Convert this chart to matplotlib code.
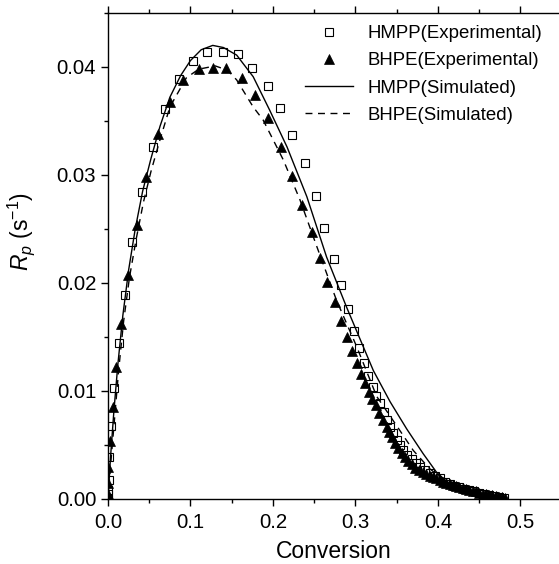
import matplotlib
matplotlib.use("Agg")
import matplotlib.pyplot as plt
from matplotlib.ticker import MultipleLocator, FormatStrFormatter

plt.rcParams['font.family'] = ['Liberation Sans', 'DejaVu Sans']
plt.rcParams['mathtext.fontset'] = 'custom'
plt.rcParams['mathtext.rm'] = 'Liberation Sans'
plt.rcParams['mathtext.it'] = 'Liberation Sans:italic'

# HMPP experimental (squares)
hmpp_exp_x = [0.0, 0.0003, 0.0005, 0.0008, 0.0012, 0.0036, 0.0073, 0.0133, 0.0204, 0.0295,
              0.041, 0.054, 0.069, 0.0857, 0.1034, 0.120, 0.140, 0.158, 0.1745, 0.1935,
              0.209, 0.2235, 0.239, 0.2517, 0.262, 0.274, 0.2824, 0.2905, 0.298, 0.3047,
              0.310, 0.3156, 0.321, 0.325, 0.330, 0.334, 0.338, 0.342, 0.346, 0.350,
              0.354, 0.358, 0.363, 0.368, 0.373, 0.378, 0.384, 0.390, 0.396, 0.402,
              0.408, 0.414, 0.420, 0.426, 0.432, 0.438, 0.444, 0.450, 0.456, 0.462,
              0.468, 0.474, 0.480]
hmpp_exp_y = [0.0, 0.0005, 0.0008, 0.0018, 0.0039, 0.0068, 0.0103, 0.0144, 0.0189, 0.0238,
              0.0284, 0.0326, 0.0361, 0.0389, 0.0406, 0.0414, 0.0414, 0.0412, 0.0399, 0.0382,
              0.0362, 0.0337, 0.0311, 0.0281, 0.0251, 0.0222, 0.0198, 0.0176, 0.0156, 0.0140,
              0.0126, 0.0114, 0.0104, 0.0095, 0.0089, 0.0081, 0.0073, 0.0067, 0.0061, 0.0055,
              0.0050, 0.0045, 0.0041, 0.0037, 0.0033, 0.0030, 0.0027, 0.0024, 0.0021, 0.0019,
              0.0016, 0.0014, 0.0012, 0.0011, 0.0009, 0.0008, 0.0007, 0.0006, 0.0005, 0.0004,
              0.0003, 0.0002, 0.0001]

# BHPE experimental (triangles)
bhpe_exp_x = [0.0, 0.0002, 0.0003, 0.0005, 0.0024, 0.0064, 0.0097, 0.016, 0.0248, 0.0347,
              0.046, 0.061, 0.0756, 0.0913, 0.110, 0.127, 0.143, 0.1624, 0.178, 0.1935,
              0.2097, 0.2226, 0.2355, 0.2477, 0.2565, 0.2655, 0.2752, 0.282, 0.2893, 0.2958,
              0.3015, 0.3063, 0.3115, 0.3164, 0.3204, 0.3248, 0.329, 0.3337, 0.3377, 0.341,
              0.344, 0.348, 0.352, 0.356, 0.360, 0.364, 0.368, 0.372, 0.377, 0.382,
              0.386, 0.390, 0.394, 0.398, 0.402, 0.406, 0.410, 0.414, 0.418, 0.422,
              0.426, 0.430, 0.434, 0.438, 0.442, 0.446, 0.450, 0.454, 0.458, 0.462,
              0.466, 0.470, 0.474, 0.478, 0.481]
bhpe_exp_y = [0.0, 0.0005, 0.0015, 0.0030, 0.0054, 0.0085, 0.0122, 0.0162, 0.0207, 0.0254,
              0.0298, 0.0338, 0.0368, 0.0388, 0.0398, 0.0399, 0.0399, 0.0390, 0.0374, 0.0353,
              0.0326, 0.0299, 0.0272, 0.0247, 0.0223, 0.0201, 0.0182, 0.0165, 0.0150, 0.0137,
              0.0126, 0.0116, 0.0107, 0.0099, 0.0093, 0.0087, 0.0080, 0.0073, 0.0067, 0.0062,
              0.0057, 0.0052, 0.0047, 0.0043, 0.0039, 0.0035, 0.0032, 0.0029, 0.0027, 0.0025,
              0.0023, 0.0021, 0.0020, 0.0019, 0.0018, 0.0016, 0.0015, 0.0014, 0.0013, 0.0012,
              0.0011, 0.0010, 0.0009, 0.0008, 0.0007, 0.0007, 0.0006, 0.0005, 0.0005, 0.0004,
              0.0004, 0.0003, 0.0002, 0.0002, 0.0001]

# HMPP simulated (solid)
hmpp_sim_x = [0.0, 0.003, 0.007, 0.012, 0.018, 0.025, 0.033, 0.042, 0.052, 0.063,
              0.075, 0.088, 0.100, 0.113, 0.127, 0.140, 0.156, 0.176, 0.196, 0.217,
              0.241, 0.265, 0.289, 0.3216, 0.342, 0.362, 0.382, 0.398, 0.415, 0.44,
              0.46, 0.48]
hmpp_sim_y = [0.0, 0.0038, 0.0080, 0.0125, 0.0170, 0.0212, 0.0250, 0.0285, 0.0315, 0.0345,
              0.0372, 0.0392, 0.0406, 0.0416, 0.0420, 0.0418, 0.0411, 0.0391, 0.0360, 0.0326,
              0.0280, 0.0224, 0.0178, 0.0119, 0.0090, 0.0065, 0.0042, 0.0025, 0.0013, 0.0005,
              0.0002, 0.0]

# BHPE simulated (dashed)
bhpe_sim_x = [0.0, 0.003, 0.008, 0.013, 0.019, 0.026, 0.034, 0.043, 0.052, 0.062,
              0.075, 0.095, 0.110, 0.130, 0.145, 0.156, 0.176, 0.188, 0.2125, 0.2327,
              0.253, 0.277, 0.3015, 0.3257, 0.348, 0.370, 0.390, 0.410, 0.430, 0.450, 0.480]
bhpe_sim_y = [0.0, 0.0030, 0.0075, 0.0120, 0.0165, 0.0205, 0.0240, 0.0275, 0.0303, 0.0330,
              0.0363, 0.0390, 0.0398, 0.0401, 0.0397, 0.0388, 0.0363, 0.0351, 0.0314, 0.0277,
              0.0234, 0.0184, 0.0141, 0.0095, 0.0070, 0.0045, 0.0028, 0.0016, 0.0009, 0.0005, 0.0]

labels = ['HMPP(Experimental)', 'BHPE(Experimental)', 'HMPP(Simulated)', 'BHPE(Simulated)']

fig = plt.figure(figsize=(5.59, 5.64), dpi=100)
ax = fig.add_axes([108/559, 1-499/564, 451/559, 486/564])

h1, = ax.plot(hmpp_exp_x, hmpp_exp_y, ls='none', marker='s', ms=5.2, mfc='none',
              mec='black', mew=0.8, label=labels[0], zorder=3)
h2, = ax.plot(bhpe_exp_x, bhpe_exp_y, ls='none', marker='^', ms=7.8, mfc='black',
              mec='black', mew=0.5, label=labels[1], zorder=3)
h3, = ax.plot(hmpp_sim_x, hmpp_sim_y, ls='-', color='black', lw=1.0, label=labels[2], zorder=4)
h4, = ax.plot(bhpe_sim_x, bhpe_sim_y, ls=(0, (5, 4)), color='black', lw=1.0, label=labels[3], zorder=4)

ax.set_xlim(0, 0.5467)
ax.set_ylim(0, 0.045)
ax.xaxis.set_major_locator(MultipleLocator(0.1))
ax.xaxis.set_minor_locator(MultipleLocator(0.05))
ax.yaxis.set_major_locator(MultipleLocator(0.01))
ax.yaxis.set_minor_locator(MultipleLocator(0.005))
ax.xaxis.set_major_formatter(FormatStrFormatter('%.1f'))
ax.yaxis.set_major_formatter(FormatStrFormatter('%.2f'))

ax.spines['right'].set_visible(False)
for s in ['left', 'bottom', 'top']:
    ax.spines[s].set_linewidth(1.0)

ax.tick_params(which='both', direction='out', top=True, right=False, labelsize=14.7, width=1.0)
ax.tick_params(which='major', length=5)
ax.tick_params(which='minor', length=3)
ax.tick_params(axis='x', which='major', pad=5)

ax.set_xlabel('Conversion', fontsize=16.5, labelpad=6)
ax.set_ylabel(r'$R_p$ (s$^{-1}$)', fontsize=16.5)
ax.yaxis.set_label_coords(-0.158, 0.55)

leg = ax.legend(handles=[h1, h2, h3, h4], loc='upper left', bbox_to_anchor=(0.437, 0.975),
                frameon=False, fontsize=13.4, borderpad=0, borderaxespad=0,
                handlelength=2.6, handletextpad=0.75, labelspacing=0.55, numpoints=1)

fig.savefig('out.png', dpi=100)
